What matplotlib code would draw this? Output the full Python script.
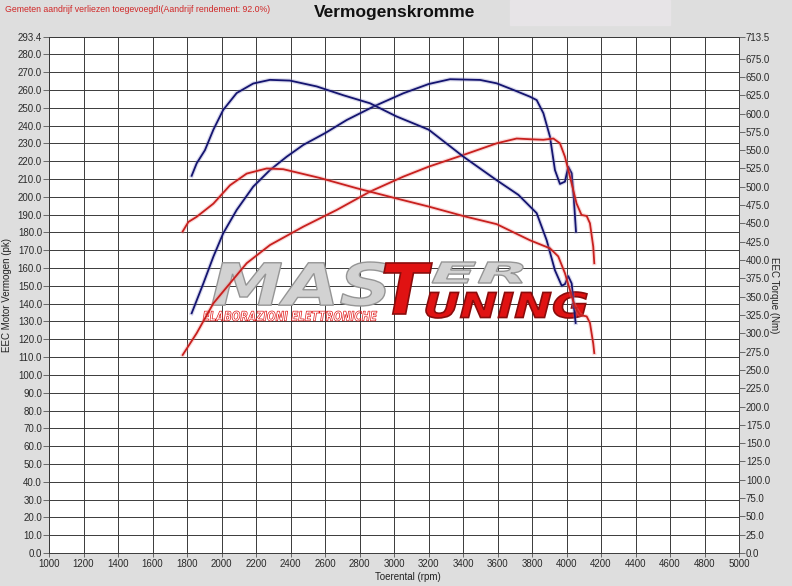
import numpy as np
import matplotlib
matplotlib.use("Agg")
import matplotlib.pyplot as plt
import matplotlib.patheffects as pe
from matplotlib.patches import Rectangle, PathPatch
from matplotlib.textpath import TextPath
from matplotlib.font_manager import FontProperties
from matplotlib.transforms import Affine2D

plt.rcParams['font.family'] = ['Liberation Sans', 'DejaVu Sans']

# --- data ---
# tuned (blue) power, pk
rpm_pow_tuned = [1827, 1895, 1953, 2010, 2088, 2184, 2281, 2378, 2474, 2600, 2726, 2880,
                 3054, 3201, 3325, 3499, 3595, 3692, 3788, 3827, 3866, 3904, 3933, 3962,
                 3991, 4010, 4030, 4043, 4055]
pow_tuned = [134.6, 151.4, 166.4, 179.5, 192.6, 205.7, 215.0, 222.5, 229.1, 235.7, 243.1, 250.6,
             258.1, 263.3, 266.0, 265.6, 263.7, 260.0, 256.2, 254.3, 246.9, 233.8, 215.0, 207.2,
             208.5, 216.9, 213.2, 198.2, 180.4]

# tuned (blue) torque, Nm
rpm_tq_tuned = [1827, 1856, 1904, 1953, 2010, 2088, 2184, 2281, 2397, 2552, 2706, 2861, 3015,
                3201, 3403, 3595, 3721, 3827, 3885, 3933, 3972, 3991, 4010, 4030, 4043, 4053]
tq_tuned = [515, 532, 550, 578, 605, 628, 641, 646, 645, 637, 625, 614, 596,
            578, 541, 509, 489, 464, 427, 386, 365, 367, 378, 368, 336, 314]

# stock (red) power, pk
rpm_pow_stock = [1775, 1856, 1953, 2049, 2146, 2281, 2474, 2668, 2861, 3054, 3201, 3403, 3595,
                 3711, 3788, 3866, 3924, 3962, 3991, 4020, 4058, 4087, 4117, 4136, 4155, 4161]
pow_stock = [111.2, 123.4, 140.2, 151.4, 162.7, 172.9, 183.2, 192.6, 202.9, 211.3, 216.9, 223.5, 230.0,
             232.7, 232.3, 232.0, 232.7, 230.0, 222.5, 211.3, 196.3, 189.8, 189.2, 185.1, 172.0, 162.7]

# stock (red) torque, Nm
rpm_tq_stock = [1775, 1808, 1856, 1953, 2049, 2146, 2262, 2358, 2571, 2784, 3015, 3201, 3403,
                3595, 3788, 3904, 3952, 3991, 4020, 4049, 4078, 4117, 4136, 4155, 4161]
tq_stock = [439, 452, 459, 477, 502, 518, 525, 524, 512, 498, 484, 473, 460,
            449, 427, 416, 405, 382, 359, 336, 325, 323, 314, 286, 273]

x_ticks = list(range(1000, 5001, 200))
pk_ticks = list(range(0, 290, 10))
pk_top, pk_top_label = 289.7, "293.4"
nm_ticks = list(range(0, 700, 25))
nm_top, nm_top_label = 704.5, "713.5"

BLUE = '#141470'
RED = '#c8201e'
BG = '#dedede'
W, H = 792, 586


def fx(px):
    return px / W


def fy(py):
    return 1 - py / H


def logo_word(ax, s, box, face, edge, lw=1.2, z=2.5, fill=True):
    # fit the word's outline into a pixel box (left, top, right, bottom)
    fp = FontProperties(family='DejaVu Sans', weight='bold', style='italic')
    tp = TextPath((0, 0), s, size=10, prop=fp)
    ext = tp.get_extents()
    l, t, r, b = box
    sx = (r - l) / ext.width / W
    sy = (b - t) / ext.height / H
    tr = Affine2D().translate(-ext.x0, -ext.y0).scale(sx, sy).translate(fx(l), fy(b))
    path = tr.transform_path(tp)
    patch = PathPatch(path, transform=ax.figure.transFigure, facecolor=face if fill else 'none',
                      edgecolor=edge, lw=lw, zorder=z, clip_on=False)
    ax.add_artist(patch)


fig = plt.figure(figsize=(W / 100, H / 100), dpi=100, facecolor=BG)
fig.patches.append(Rectangle((fx(510), fy(25)), fx(160), 25 / H,
                             transform=fig.transFigure, color='#e7e4e7', zorder=0))

ax = fig.add_axes([fx(49), fy(553), fx(739) - fx(49), fy(37) - fy(553)])
ax.set_facecolor('white')
ax.set_xlim(1000, 5000)
ax.set_ylim(0, pk_top)
ax.set_xticks(x_ticks)
ax.set_xticklabels([str(t) for t in x_ticks])
ax.set_yticks(pk_ticks + [pk_top])
ax.set_yticklabels([f"{t:.1f}" for t in pk_ticks] + [pk_top_label])
ax.set_axisbelow(True)
ax.grid(True, color='#3a3a3a', linewidth=0.7)
for s in ax.spines.values():
    s.set_color('#3a3a3a')
    s.set_linewidth(0.7)
ax.tick_params(axis='y', labelsize=7, length=4, width=0.6, pad=1, colors='#555555', labelcolor='#2a2a2a')
ax.tick_params(axis='x', labelsize=7, length=3, width=0.6, pad=1, colors='#555555', labelcolor='#2a2a2a')
ax.set_xlabel("Toerental (rpm)", fontsize=7, color='#222222')
ax.xaxis.set_label_coords(0.52, -0.037)
ax.set_ylabel("EEC Motor Vermogen (pk)", fontsize=7, color='#222222')
ax.yaxis.set_label_coords(-0.054, 0.5)

ax2 = ax.twinx()
ax2.set_ylim(0, nm_top)
ax2.set_yticks(nm_ticks + [nm_top])
ax2.set_yticklabels([f"{t:.1f}" for t in nm_ticks] + [nm_top_label])
ax2.tick_params(axis='y', labelsize=7, length=4, width=0.6, pad=1, colors='#555555', labelcolor='#2a2a2a')
for s in ax2.spines.values():
    s.set_visible(False)
ax2.set_ylabel("EEC Torque (Nm)", fontsize=7, rotation=270, color='#222222')
ax2.yaxis.set_label_coords(1.058, 0.5)

# watermark logo, under the curves
logo_word(ax, "MAS", (212, 262, 388, 306), '#d2d2d2', '#959595', lw=1.0)
logo_word(ax, "ER", (432, 262, 523, 283), '#d2d2d2', '#959595', lw=1.0)
logo_word(ax, "T", (384, 263, 432, 314), '#e01212', '#8a0c0c', z=2.6)
logo_word(ax, "UNING", (426, 292, 587, 318), '#e01212', '#8a0c0c', z=2.6)
logo_word(ax, "ELABORAZIONI ELETTRONICHE", (203, 311, 377, 321), 'none', '#e01818',
          lw=0.5, z=2.6, fill=False)

glow_b = [pe.Stroke(linewidth=3.0, foreground='#8080c0', alpha=0.3), pe.Normal()]
glow_r = [pe.Stroke(linewidth=3.0, foreground='#f08080', alpha=0.3), pe.Normal()]
ax.plot(rpm_pow_tuned, pow_tuned, color=BLUE, lw=1.3, zorder=3, path_effects=glow_b)
ax.plot(rpm_pow_stock, pow_stock, color=RED, lw=1.3, zorder=3, path_effects=glow_r)
ax2.plot(rpm_tq_tuned, tq_tuned, color=BLUE, lw=1.3, zorder=3, path_effects=glow_b)
ax2.plot(rpm_tq_stock, tq_stock, color=RED, lw=1.3, zorder=3, path_effects=glow_r)

fig.text(fx(5), fy(9), "Gemeten aandrijf verliezen toegevoegd!(Aandrijf rendement: 92.0%)",
         fontsize=6.3, color='#d02828', va='center', ha='left')
fig.text(fx(395), fy(12), "Vermogenskromme", fontsize=12.5, weight='bold',
         color='#111111', va='center', ha='center')

fig.savefig("out.png", dpi=100, facecolor=BG)
